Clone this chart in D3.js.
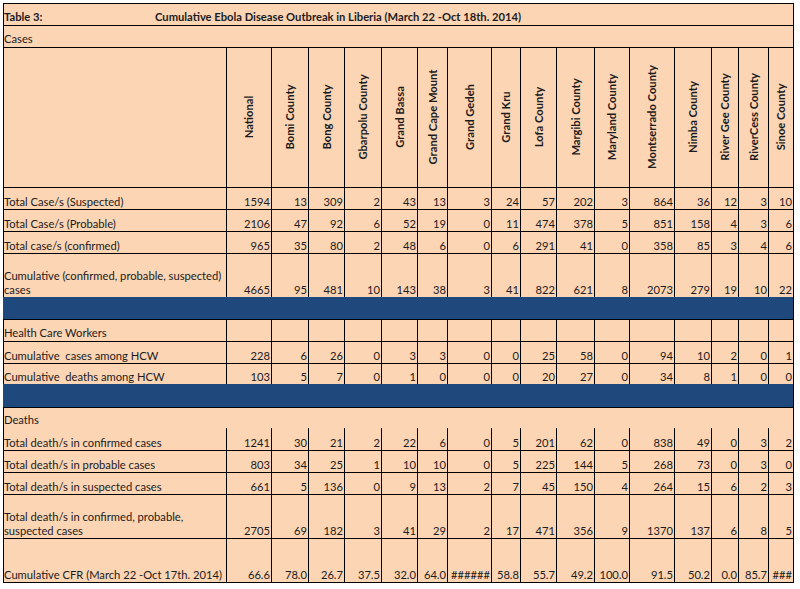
<!DOCTYPE html>
<html>
<head>
<meta charset="utf-8">
<script src="https://cdn.jsdelivr.net/npm/d3@7"></script>
<style>
  html, body { margin: 0; padding: 0; background: #fff; }
  svg { display: block; }
  text { font-family: Lato, "Open Sans", sans-serif; fill: #1b1b22; white-space: pre; }
</style>
</head>
<body>
<script>
// table contents
var tableTitle = 'Cumulative Ebola Disease Outbreak in Liberia (March 22 -Oct 18th. 2014)';
var counties = ['National', 'Bomi County', 'Bong County', 'Gbarpolu County', 'Grand Bassa',
  'Grand Cape Mount', 'Grand Gedeh', 'Grand Kru', 'Lofa County', 'Margibi County',
  'Maryland County', 'Montserrado County', 'Nimba County', 'River Gee County',
  'RiverCess County', 'Sinoe County'];

var casesSuspected = [1594, 13, 309, 2, 43, 13, 3, 24, 57, 202, 3, 864, 36, 12, 3, 10];
var casesProbable = [2106, 47, 92, 6, 52, 19, 0, 11, 474, 378, 5, 851, 158, 4, 3, 6];
var casesConfirmed = [965, 35, 80, 2, 48, 6, 0, 6, 291, 41, 0, 358, 85, 3, 4, 6];
var casesCumulative = [4665, 95, 481, 10, 143, 38, 3, 41, 822, 621, 8, 2073, 279, 19, 10, 22];

var hcwCases = [228, 6, 26, 0, 3, 3, 0, 0, 25, 58, 0, 94, 10, 2, 0, 1];
var hcwDeaths = [103, 5, 7, 0, 1, 0, 0, 0, 20, 27, 0, 34, 8, 1, 0, 0];

var deathsConfirmed = [1241, 30, 21, 2, 22, 6, 0, 5, 201, 62, 0, 838, 49, 0, 3, 2];
var deathsProbable = [803, 34, 25, 1, 10, 10, 0, 5, 225, 144, 5, 268, 73, 0, 3, 0];
var deathsSuspected = [661, 5, 136, 0, 9, 13, 2, 7, 45, 150, 4, 264, 15, 6, 2, 3];
var deathsTotal = [2705, 69, 182, 3, 41, 29, 2, 17, 471, 356, 9, 1370, 137, 6, 8, 5];
// as shown in the sheet, overflowing cells included
var cfrShown = ['66.6', '78.0', '26.7', '37.5', '32.0', '64.0', '######', '58.8', '55.7',
  '49.2', '100.0', '91.5', '50.2', '0.0', '85.7', '###'];

// layout
var W = 800, H = 589;
var left = 3, right = 793, labelRight = 226;
var colWidths = [45, 37, 36, 37, 36, 30, 44, 29, 36, 38, 35, 45, 37, 27, 30, 25];
var fontSize = 11.2;
var peach = '#fcd5b4', navy = '#1f497d';

// kind: title | section | header | data | band
var rows = [
  { kind: 'title', h: 22 },
  { kind: 'section', h: 22, label: 'Cases', grid: false },
  { kind: 'header', h: 140 },
  { kind: 'data', h: 22, label: ['Total Case/s (Suspected)'], values: casesSuspected },
  { kind: 'data', h: 22, label: ['Total Case/s (Probable)'], values: casesProbable },
  { kind: 'data', h: 22, label: ['Total case/s (confirmed)'], values: casesConfirmed },
  { kind: 'data', h: 44, label: ['Cumulative (confirmed, probable, suspected)', 'cases'], values: casesCumulative },
  { kind: 'band', h: 22 },
  { kind: 'section', h: 22, label: 'Health Care Workers', grid: true },
  { kind: 'data', h: 22, label: ['Cumulative  cases among HCW'], values: hcwCases },
  { kind: 'data', h: 21, label: ['Cumulative  deaths among HCW'], values: hcwDeaths },
  { kind: 'band', h: 23 },
  { kind: 'section', h: 21, label: 'Deaths', grid: false, open: true },
  { kind: 'data', h: 22, label: ['Total death/s in confirmed cases'], values: deathsConfirmed },
  { kind: 'data', h: 22, label: ['Total death/s in probable cases'], values: deathsProbable },
  { kind: 'data', h: 22, label: ['Total death/s in suspected cases'], values: deathsSuspected },
  { kind: 'data', h: 44, label: ['Total death/s in confirmed, probable,', 'suspected cases'], values: deathsTotal },
  { kind: 'data', h: 44, label: ['Cumulative CFR (March 22 -Oct 17th. 2014)'], values: cfrShown }
];

var y0 = 3;
rows.forEach(function(r) {
  r.y = y0;
  y0 += r.h;
});

var edges = [labelRight];
colWidths.forEach(function(w, i) { edges.push(edges[i] + w); });

var colLeft = d3.scaleOrdinal().domain(counties).range(edges.slice(0, -1));
var colRight = d3.scaleOrdinal().domain(counties).range(edges.slice(1));

var svg = d3.select('body').append('svg')
  .attr('width', W)
  .attr('height', H);

svg.append('rect')
  .attr('width', W)
  .attr('height', H)
  .attr('fill', '#fff');

svg.append('rect')
  .attr('x', left)
  .attr('y', 3)
  .attr('width', right - left)
  .attr('height', y0 - 3)
  .attr('fill', peach);

var grid = svg.append('g').attr('stroke', '#000').attr('stroke-width', 1)
  .attr('shape-rendering', 'crispEdges');
var texts = svg.append('g').style('font-size', fontSize + 'px');

function hline(y) {
  grid.append('line').attr('x1', left).attr('x2', right).attr('y1', y).attr('y2', y);
}

function vlines(top, bottom) {
  grid.selectAll(null)
    .data(edges.slice(0, -1))
    .enter().append('line')
    .attr('x1', function(d) { return d; })
    .attr('x2', function(d) { return d; })
    .attr('y1', top)
    .attr('y2', bottom);
}

rows.forEach(function(r, i) {
  var bottom = r.y + r.h;

  if (r.kind === 'title') {
    texts.append('text').attr('x', left + 1).attr('y', bottom - 4)
      .attr('font-weight', 'bold').text('Table 3:');
    texts.append('text').attr('x', 155).attr('y', bottom - 4)
      .attr('font-weight', 'bold').text(tableTitle);
  }

  if (r.kind === 'section') {
    texts.append('text').attr('x', left + 1).attr('y', bottom - 4).text(r.label);
    if (r.grid) vlines(r.y, bottom);
  }

  if (r.kind === 'band') {
    svg.append('rect')
      .attr('x', left).attr('y', r.y)
      .attr('width', right - left).attr('height', r.h)
      .attr('fill', navy);
  }

  if (r.kind === 'header') {
    vlines(r.y, bottom);
    texts.selectAll(null)
      .data(counties)
      .enter().append('text')
      .attr('font-weight', 'bold')
      .attr('text-anchor', 'middle')
      .attr('dominant-baseline', 'central')
      .attr('transform', function(d) {
        var cx = (colLeft(d) + colRight(d)) / 2;
        return 'translate(' + cx + ',' + (r.y + r.h / 2) + ') rotate(-90)';
      })
      .text(function(d) { return d; });
  }

  if (r.kind === 'data') {
    vlines(r.y, bottom);
    r.label.forEach(function(line, k) {
      texts.append('text')
        .attr('x', left + 1)
        .attr('y', bottom - 3 - (r.label.length - 1 - k) * 14)
        .text(line);
    });
    texts.selectAll(null)
      .data(r.values)
      .enter().append('text')
      .attr('text-anchor', 'end')
      .attr('x', function(d, j) { return colRight(counties[j]) - 1; })
      .attr('y', bottom - 3)
      .text(function(d) { return d; });
  }

  // horizontal rule under each row, except between "Deaths" and its first row
  if (!r.open) hline(bottom);
});

// outer border
grid.append('rect')
  .attr('x', left).attr('y', 3)
  .attr('width', right - left).attr('height', y0 - 3)
  .attr('fill', 'none');
</script>
</body>
</html>
